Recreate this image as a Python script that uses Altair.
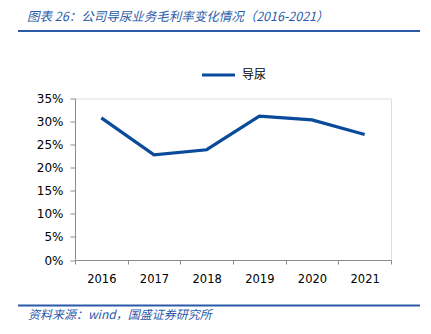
import altair as alt
import pandas as pd

years = ["2016", "2017", "2018", "2019", "2020", "2021"]
margin = [0.308, 0.228, 0.239, 0.312, 0.3035, 0.272]
series = "导尿"
title_text = "图表 26：公司导尿业务毛利率变化情况（2016-2021）"
source_text = "资料来源：wind，国盛证券研究所"

df = pd.DataFrame({"year": years, "margin": margin, "series": [series] * len(years)})

W, H = 316, 161.5
line_color = "#0A4A9A"
blue = "#2B5BA8"

base = alt.Chart(df)

line = base.mark_line(strokeWidth=3.2, color=line_color).encode(
    x=alt.X("year:O", scale=alt.Scale(type="band", paddingInner=0, paddingOuter=0),
            bandPosition=0.5,
            axis=alt.Axis(title=None, labelAngle=0, tickBand="extent", domainColor="#8c8c8c",
                          tickColor="#8c8c8c", tickSize=4, labelPadding=9,
                          labelFont="DejaVu Sans", labelFontSize=11.5, labelColor="#000000")),
    y=alt.Y("margin:Q", scale=alt.Scale(domain=[0, 0.35], nice=False),
            axis=alt.Axis(title=None, format=".0%", values=[0, 0.05, 0.1, 0.15, 0.2, 0.25, 0.3, 0.35],
                          grid=False, domainColor="#8c8c8c", tickColor="#8c8c8c", tickSize=5,
                          labelPadding=7, labelFont="DejaVu Sans", labelFontSize=12,
                          labelColor="#000000")),
    color=alt.Color("series:N", scale=alt.Scale(range=[line_color]),
                    legend=alt.Legend(title=None, orient="none", legendX=125, legendY=-42,
                                      symbolType="stroke", symbolSize=1089, symbolStrokeWidth=3.2,
                                      labelFont="Noto Sans CJK SC", labelFontSize=12,
                                      labelColor="#000000", labelOffset=5)),
)

title = alt.Chart(pd.DataFrame({"t": [title_text]})).mark_text(
    align="left", baseline="middle", font="Noto Sans CJK SC", fontSize=12.5,
    fontStyle="italic", color=blue
).encode(text="t:N", x=alt.value(-48), y=alt.value(-82))

source = alt.Chart(pd.DataFrame({"t": [source_text]})).mark_text(
    align="left", baseline="middle", font="Noto Sans CJK SC", fontSize=12,
    fontStyle="italic", color=blue
).encode(text="t:N", x=alt.value(-47), y=alt.value(216))

top_rule = alt.Chart(pd.DataFrame({"a": [0]})).mark_rule(color=blue, strokeWidth=2).encode(
    x=alt.value(-57), x2=alt.value(345), y=alt.value(-67.5))
bottom_rule = alt.Chart(pd.DataFrame({"a": [0]})).mark_rule(color=blue, strokeWidth=2).encode(
    x=alt.value(-57), x2=alt.value(345), y=alt.value(207))

chart = alt.layer(line, title, source, top_rule, bottom_rule).properties(
    width=W, height=H,
    autosize=alt.AutoSizeParams(type="none"),
    padding={"left": 75, "top": 98.5, "right": 40, "bottom": 74},
).configure_view(stroke=None).configure(background="#ffffff")

chart.save("out.html", embed_options={"renderer": "svg", "actions": False})
